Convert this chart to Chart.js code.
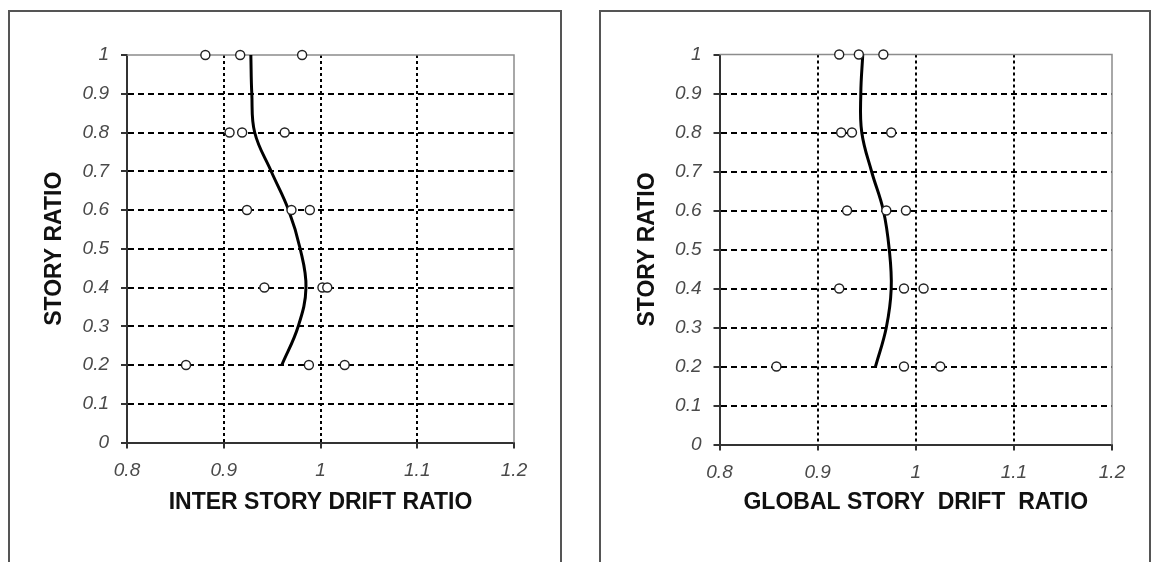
<!DOCTYPE html>
<html>
<head>
<meta charset="utf-8">
<script src="https://cdn.jsdelivr.net/npm/chart.js@4/dist/chart.umd.min.js"></script>
<style>
  html, body { margin: 0; padding: 0; background: #fff; }
  body { width: 1151px; height: 562px; position: relative; overflow: hidden; }
  .box { position: absolute; top: 10px; height: 560px; border: 2px solid #555; border-bottom: none; box-sizing: border-box; }
  canvas { position: absolute; top: 0; }
</style>
</head>
<body>
<div class="box" style="left:8px; width:554px;"></div>
<div class="box" style="left:599px; width:552px;"></div>
<canvas id="inter" width="580" height="562" style="left:0px"></canvas>
<canvas id="global" width="571" height="562" style="left:580px"></canvas>
<script>
// story levels at which the three drift estimates were measured
const storyLevels = [1.0, 0.8, 0.6, 0.4, 0.2];

// inter story drift ratio (left chart)
const interDriftA = [0.881, 0.906, 0.924, 0.942, 0.861];
const interDriftB = [0.917, 0.919, 0.970, 1.002, 0.988];
const interDriftC = [0.981, 0.963, 0.989, 1.007, 1.025];

// global story drift ratio (right chart)
const globalDriftA = [0.922, 0.924, 0.930, 0.922, 0.858];
const globalDriftB = [0.942, 0.935, 0.970, 0.988, 0.988];
const globalDriftC = [0.967, 0.975, 0.990, 1.008, 1.025];

// fitted curves
const fitLevels = [0.2, 0.3, 0.4, 0.5, 0.6, 0.7, 0.8, 0.9, 1.0];
const interFit = [0.960, 0.977, 0.985, 0.979, 0.967, 0.949, 0.932, 0.929, 0.928];
const globalFit = [0.959, 0.970, 0.975, 0.973, 0.967, 0.955, 0.945, 0.944, 0.946];

const xTickLabels = ['0.8', '0.9', '1', '1.1', '1.2'];
const yTickLabels = ['0', '0.1', '0.2', '0.3', '0.4', '0.5', '0.6', '0.7', '0.8', '0.9', '1'];

const tickFont = { family: 'Arial, "Liberation Sans"', size: 19, style: 'italic' };
const titleFont = { family: 'Arial, "Liberation Sans"', size: 23, weight: 'bold' };

function points(...series) {
  const out = [];
  series.forEach((s) => s.forEach((x, i) => out.push({ x: x, y: storyLevels[i] })));
  return out;
}

// light grey frame on the top and right of the plot area
const frameEdges = {
  id: 'frameEdges',
  beforeDatasetsDraw(chart) {
    const { ctx, chartArea: a } = chart;
    ctx.save();
    ctx.strokeStyle = '#8c8c8c';
    ctx.lineWidth = 1.5;
    ctx.beginPath();
    ctx.moveTo(a.left, a.top);
    ctx.lineTo(a.right, a.top);
    ctx.lineTo(a.right, a.bottom);
    ctx.stroke();
    ctx.restore();
  }
};

function makeChart(id, opts) {
  return new Chart(document.getElementById(id), {
    type: 'scatter',
    data: {
      datasets: [
        {
          data: opts.pts,
          pointRadius: 4.5,
          pointBackgroundColor: '#fff',
          pointBorderColor: '#222',
          pointBorderWidth: 1.4,
          clip: false
        },
        {
          data: fitLevels.map((y, i) => ({ x: opts.fit[i], y: y })),
          showLine: true,
          pointRadius: 0,
          borderColor: '#000',
          borderWidth: 3,
          tension: 0.4,
          clip: false
        }
      ]
    },
    options: {
      responsive: false,
      animation: false,
      devicePixelRatio: 1,
      layout: { padding: { top: opts.top, right: opts.right, left: 0, bottom: 0 } },
      plugins: { legend: { display: false }, tooltip: { enabled: false } },
      scales: {
        x: {
          type: 'linear',
          min: 0.8,
          max: 1.2,
          afterFit: (s) => { s.height = opts.xHeight; },
          afterBuildTicks: (s) => { s.ticks = xTickLabels.map((t) => ({ value: parseFloat(t) })); },
          ticks: {
            callback: (v, i) => xTickLabels[i],
            font: tickFont,
            color: '#4a4a4a',
            padding: 11,
            maxRotation: 0
          },
          grid: {
            color: (c) => (c.tick && (c.tick.value === 0.8 || c.tick.value === 1.2)) ? 'rgba(0,0,0,0)' : '#000',
            lineWidth: 2,
            tickLength: 6,
            tickColor: '#333',
            tickWidth: 2
          },
          border: { display: true, color: '#333', width: 2, dash: [3, 3] },
          title: {
            display: true,
            text: opts.xTitle,
            font: titleFont,
            color: '#111',
            padding: { top: 0, bottom: 46 }
          }
        },
        y: {
          type: 'linear',
          min: 0,
          max: 1,
          afterFit: (s) => { s.width = opts.yWidth; },
          afterBuildTicks: (s) => { s.ticks = yTickLabels.map((t) => ({ value: parseFloat(t) })); },
          ticks: {
            callback: (v, i) => yTickLabels[i],
            font: tickFont,
            color: '#4a4a4a',
            padding: 12
          },
          grid: {
            color: (c) => (c.tick && (c.tick.value === 0 || c.tick.value === 1)) ? 'rgba(0,0,0,0)' : '#000',
            lineWidth: 2,
            tickLength: 6,
            tickColor: '#333',
            tickWidth: 2
          },
          border: { display: true, color: '#333', width: 2, dash: [6, 4] },
          title: {
            display: true,
            text: 'STORY RATIO',
            font: titleFont,
            color: '#111',
            padding: { top: opts.yTitlePad, bottom: 0 }
          }
        }
      }
    },
    plugins: [frameEdges]
  });
}

makeChart('inter', {
  pts: points(interDriftA, interDriftB, interDriftC),
  fit: interFit,
  xTitle: 'INTER STORY DRIFT RATIO',
  top: 55,
  right: 66,
  yWidth: 127,
  xHeight: 119.5,
  yTitlePad: 41
});

makeChart('global', {
  pts: points(globalDriftA, globalDriftB, globalDriftC),
  fit: globalFit,
  xTitle: 'GLOBAL STORY  DRIFT  RATIO',
  top: 54.5,
  right: 39,
  yWidth: 139.5,
  xHeight: 117.5,
  yTitlePad: 53.5
});
</script>
</body>
</html>
